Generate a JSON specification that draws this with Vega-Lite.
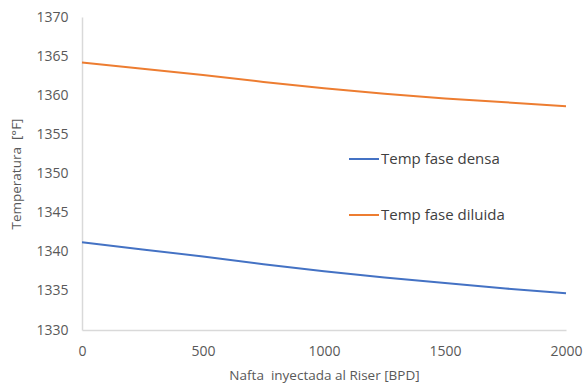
{
  "$schema": "https://vega.github.io/schema/vega-lite/v6.json",
  "width": 484,
  "height": 313,
  "autosize": {"type": "none"},
  "padding": {"left": 82, "top": 17, "right": 18, "bottom": 55},
  "background": "white",
  "config": {
    "view": {"stroke": null},
    "font": "Open Sans"
  },
  "data": {
    "values": [
      {"x": 0, "serie": "Temp fase densa", "t": 1341.2},
      {"x": 250, "serie": "Temp fase densa", "t": 1340.3},
      {"x": 500, "serie": "Temp fase densa", "t": 1339.4},
      {"x": 750, "serie": "Temp fase densa", "t": 1338.4},
      {"x": 1000, "serie": "Temp fase densa", "t": 1337.5},
      {"x": 1250, "serie": "Temp fase densa", "t": 1336.7},
      {"x": 1500, "serie": "Temp fase densa", "t": 1336.0},
      {"x": 1750, "serie": "Temp fase densa", "t": 1335.3},
      {"x": 2000, "serie": "Temp fase densa", "t": 1334.7},
      {"x": 0, "serie": "Temp fase diluida", "t": 1364.2},
      {"x": 250, "serie": "Temp fase diluida", "t": 1363.4},
      {"x": 500, "serie": "Temp fase diluida", "t": 1362.6},
      {"x": 750, "serie": "Temp fase diluida", "t": 1361.7},
      {"x": 1000, "serie": "Temp fase diluida", "t": 1360.9},
      {"x": 1250, "serie": "Temp fase diluida", "t": 1360.2},
      {"x": 1500, "serie": "Temp fase diluida", "t": 1359.6},
      {"x": 1750, "serie": "Temp fase diluida", "t": 1359.1},
      {"x": 2000, "serie": "Temp fase diluida", "t": 1358.6}
    ]
  },
  "mark": {"type": "line", "strokeWidth": 2},
  "encoding": {
    "x": {
      "field": "x", "type": "quantitative",
      "scale": {"domain": [0, 2000], "nice": false},
      "axis": {
        "values": [0, 500, 1000, 1500, 2000],
        "format": "d",
        "title": "Nafta\u00a0 inyectada al Riser [BPD]",
        "grid": false, "ticks": false,
        "domainColor": "#d9d9d9", "domainWidth": 1.5,
        "labelFontSize": 14, "labelColor": "#595959", "labelPadding": 14,
        "labelFlush": false,
        "titleFontSize": 13.5, "titleFontWeight": "normal", "titleColor": "#595959",
        "titlePadding": 10
      }
    },
    "y": {
      "field": "t", "type": "quantitative",
      "scale": {"domain": [1330, 1370], "nice": false, "zero": false},
      "axis": {
        "values": [1330, 1335, 1340, 1345, 1350, 1355, 1360, 1365, 1370],
        "format": "d",
        "title": "Temperatura\u00a0 [°F]",
        "grid": false, "ticks": false,
        "domainColor": "#d9d9d9", "domainWidth": 1.5,
        "labelFontSize": 14, "labelColor": "#595959", "labelPadding": 14,
        "titleFontSize": 13.5, "titleFontWeight": "normal", "titleColor": "#595959",
        "titlePadding": 12
      }
    },
    "color": {
      "field": "serie", "type": "nominal",
      "scale": {"domain": ["Temp fase densa", "Temp fase diluida"], "range": ["#4472C4", "#ED7D31"]},
      "legend": {
        "title": null,
        "orient": "none",
        "legendX": 266,
        "legendY": 126,
        "symbolType": "stroke",
        "symbolSize": 900,
        "symbolStrokeWidth": 2,
        "labelFontSize": 15,
        "labelColor": "#404040",
        "labelOffset": 1,
        "rowPadding": 32
      }
    }
  }
}
